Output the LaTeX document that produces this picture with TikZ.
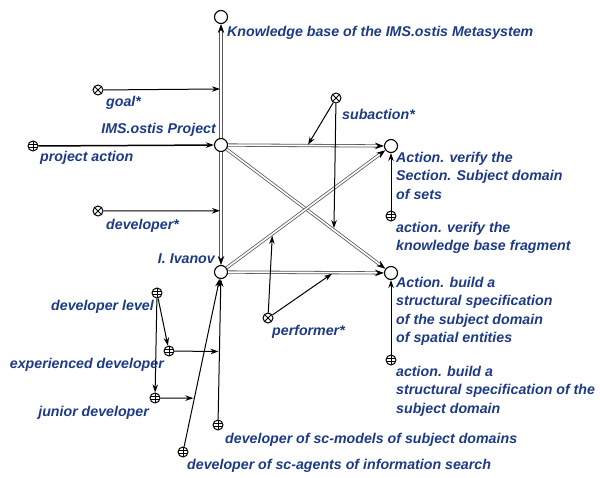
\documentclass[tikz,border=0pt]{standalone}
\usepackage{fontspec}
\setmainfont{Liberation Sans}
\usetikzlibrary{arrows.meta,calc}
\definecolor{lbl}{RGB}{28,58,135}
\begin{document}
\begin{tikzpicture}[x=1pt,y=-1pt,
  big/.style={circle,draw,fill=white,line width=1.1pt,minimum size=13pt,inner sep=0pt},
  xnode/.style={circle,draw,fill=white,line width=1pt,minimum size=10pt,inner sep=0pt,
    path picture={\draw[line width=0.9pt] (path picture bounding box.north west)--(path picture bounding box.south east)
      (path picture bounding box.north east)--(path picture bounding box.south west);}},
  gnode/.style={circle,draw,fill=white,line width=1pt,minimum size=10pt,inner sep=0pt,
    path picture={\draw[line width=0.7pt] (path picture bounding box.north)--(path picture bounding box.south)
      ($(path picture bounding box.west)+(0,1.8)$)--($(path picture bounding box.east)+(0,1.8)$)
      ($(path picture bounding box.west)+(0,-1.8)$)--($(path picture bounding box.east)+(0,-1.8)$);}},
  sarc/.style={-{Stealth[length=8pt,width=5.5pt]},line width=1pt},
  darc/.style={draw=black!65,double=white,line width=0.8pt,double distance=1.6pt,-{Stealth[length=9pt,width=6.5pt,color=black]}},
  lab/.style={text=lbl,font=\fontsize{14.2}{18.5}\selectfont\bfseries\itshape,inner sep=0pt,align=left}
]
\useasboundingbox (0,0) rectangle (600,477);

% main nodes
\node[big] (kb) at (221,17) {};
\node[big] (proj) at (221,145) {};
\node[big] (iva) at (221,272) {};
\node[big] (ver) at (391,146) {};
\node[big] (bld) at (391,273) {};

% relation nodes
\node[xnode] (goal) at (98,90) {};
\node[xnode] (dev) at (98,211) {};
\node[xnode] (sub) at (336,98) {};
\node[xnode] (perf) at (268,318) {};

% class nodes
\node[gnode] (pa) at (33,146) {};
\node[gnode] (av) at (391,216) {};
\node[gnode] (ab) at (391,360) {};
\node[gnode] (dl) at (157,293) {};
\node[gnode] (ed) at (169,351) {};
\node[gnode] (jd) at (155,398) {};
\node[gnode] (dsm) at (218,425) {};
\node[gnode] (dsa) at (183,452) {};

% double arcs
\draw[darc] (proj) -- (kb);
\draw[darc] (proj) -- (iva);
\draw[darc] (proj) -- (ver);
\draw[darc] (proj) -- (bld);
\draw[darc] (iva) -- (ver);
\draw[darc] (iva) -- (bld);

% points on arcs
\path (proj) -- (kb) coordinate[pos=0.43] (e1);
\path (proj) -- (iva) coordinate[pos=0.52] (e2);
\path (proj) -- (ver) coordinate[pos=0.51] (e3);
\path (proj) -- (bld) coordinate[pos=0.676] (e4);
\path (iva) -- (ver) coordinate[pos=0.288] (e5);
\path (iva) -- (bld) coordinate[pos=0.676] (e6);
\path (dsm) -- (iva) coordinate[pos=0.484] (e7);
\path (dsa) -- (iva) coordinate[pos=0.289] (e8);

% single arcs
\draw[sarc,shorten >=1pt] (goal) -- (e1);
\draw[sarc,shorten >=1pt] (dev) -- (e2);
\draw[sarc,line width=1.5pt] (pa) -- (proj);
\draw[sarc,shorten >=1pt] (sub) -- (e3);
\draw[sarc,shorten >=2pt] (sub) -- (e4);
\draw[sarc,shorten >=2pt] (perf) -- (e5);
\draw[sarc,shorten >=2pt] (perf) -- (e6);
\draw[sarc] (av) -- (ver);
\draw[sarc] (ab) -- (bld);
\draw[sarc] (dl) -- (ed);
\draw[sarc] (dl) -- (jd);
\draw[sarc,shorten >=1pt] (ed) -- (e7);
\draw[sarc,shorten >=1pt] (jd) -- (e8);
\draw[sarc] (dsm) -- (iva);
\draw[sarc] (dsa) -- (iva);

% labels
\node[lab,anchor=west] (kbL) at (227,33) {Knowledge base of the IMS.ostis Metasystem};
\node[lab,anchor=west] (goalL) at (106,103) {goal*};
\node[lab,anchor=east] (projL) at (216,130) {IMS.ostis Project};
\node[lab,anchor=west] (paL) at (40,158) {project action};
\node[lab,anchor=west] (devL) at (106,226) {developer*};
\node[lab,anchor=west] (subL) at (342,114) {subaction*};
\node[lab,anchor=north west] (verL) at (396,152) {Action. verify the\\Section. Subject domain\\of sets};
\node[lab,anchor=north west] (avL) at (396,222) {action. verify the\\knowledge base fragment};
\node[lab,anchor=east] (ivaL) at (215,259) {I. Ivanov};
\node[lab,anchor=north west] (bldL) at (396,277) {Action. build a\\structural specification\\of the subject domain\\of spatial entities};
\node[lab,anchor=west] (perfL) at (272,332) {performer*};
\node[lab,anchor=north west] (abL) at (396,366) {action. build a\\structural specification of the\\subject domain};
\node[lab,anchor=east] (dlL) at (154,307) {developer level};
\node[lab,anchor=east] (edL) at (164,365) {experienced developer};
\node[lab,anchor=east] (jdL) at (149,413) {junior developer};
\node[lab,anchor=west] (dsmL) at (225,440) {developer of sc-models of subject domains};
\node[lab,anchor=west] (dsaL) at (187,466) {developer of sc-agents of information search};
\end{tikzpicture}
\end{document}
